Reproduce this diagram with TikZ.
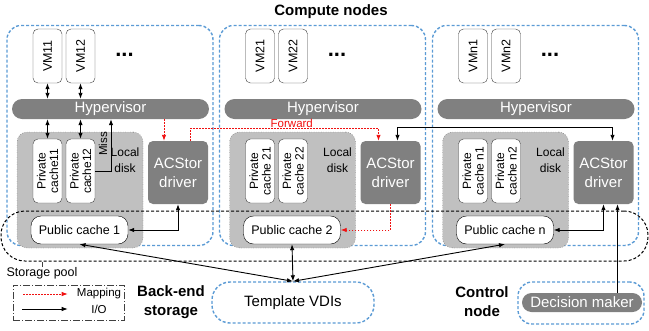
\documentclass[tikz,border=0pt]{standalone}
\usepackage{fontspec}
\setmainfont{Liberation Sans}
\usetikzlibrary{arrows.meta,calc}
\definecolor{AcsBlue}{HTML}{5B9BD5}
\definecolor{AcsGray}{HTML}{808080}
\definecolor{AcsDisk}{HTML}{C0C0C0}
\definecolor{AcsEdge}{HTML}{404040}
\definecolor{AcsRed}{HTML}{F01010}
\tikzset{
  host/.style={draw=AcsBlue,line width=1.4pt,dash pattern=on 3pt off 2pt,rounded corners=14pt,fill=white},
  vmbox/.style={draw=AcsEdge,fill=white,rounded corners=5pt,rotate=90,minimum width=54pt,minimum height=29pt,
    inner sep=0pt,font=\fontsize{12.5}{13}\selectfont},
  pcbox/.style={vmbox,minimum width=64pt,align=center,font=\fontsize{12}{12.5}\selectfont},
  dots/.style={anchor=base,inner sep=0pt,font=\bfseries\fontsize{22}{22}\selectfont},
  hyper/.style={fill=AcsGray,rounded corners=10pt,minimum width=197pt,minimum height=20pt,inner sep=0pt,
    text=white,font=\fontsize{15}{17}\selectfont},
  disk/.style={draw=AcsEdge,dotted,fill=AcsDisk,rounded corners=10pt,minimum width=126pt,minimum height=116pt},
  driver/.style={fill=AcsGray,rounded corners=5pt,minimum width=60pt,minimum height=63pt,inner sep=0pt,
    text=white,align=center,font=\fontsize{15}{19}\selectfont},
  pubbox/.style={draw=black,fill=white,rounded corners=10pt,minimum width=97pt,minimum height=28pt,inner sep=0pt,
    font=\fontsize{12.5}{14}\selectfont},
  pool/.style={draw=black,line width=1pt,dash pattern=on 3pt off 2pt,rounded corners=24pt,minimum width=647pt,minimum height=50pt},
  legendbox/.style={draw=AcsEdge,line width=0.8pt,dash pattern=on 7pt off 2pt on 1pt off 2pt,minimum width=111pt,minimum height=35pt},
  lbl/.style={font=\fontsize{11.5}{15}\selectfont,align=center,inner sep=0pt},
  ttl/.style={font=\bfseries\fontsize{15}{19}\selectfont,align=center,inner sep=0pt},
  ioflow/.style={draw=black,line width=0.9pt,-{Latex[length=6pt,width=4.5pt]}},
  mapflow/.style={draw=AcsRed,line width=0.9pt,dash pattern=on 1.5pt off 1.5pt,-{Latex[length=6pt,width=4.5pt]}},
  twoway/.style={{Latex[length=6pt,width=4.5pt]}-{Latex[length=6pt,width=4.5pt]}}
}
\begin{document}
\begin{tikzpicture}[x=1pt,y=-1pt]
  \useasboundingbox (0,0) rectangle (649,330);
  \node[ttl] (title) at (331,12) {Compute nodes};
  \foreach \i/\dx/\va/\vb/\ca/\cb/\pc in {1/0/VM11/VM12/cache11/cache12/1, 2/212.5/VM21/VM22/cache 21/cache 22/2, 3/425.5/VMn1/VMn2/cache n1/cache n2/n}{
    \node[host,minimum width=206pt,minimum height=220pt] (host\i) at (110+\dx,135.5) {};
    \node[vmbox] (vma\i) at (47.5+\dx,56) {\va};
    \node[vmbox] (vmb\i) at (80.5+\dx,56) {\vb};
    \node[dots] (dots\i) at (124.5+\dx,56) {...};
    \node[hyper] (hyp\i) at (110.5+\dx,109) {Hypervisor};
    \node[disk] (disk\i) at (80+\dx,190) {};
    \node[pcbox] (pca\i) at (47.5+\dx,171) {Private\\\ca};
    \node[pcbox] (pcb\i) at (80.5+\dx,171) {Private\\\cb};
    \node[lbl,font=\fontsize{12}{15.5}\selectfont] (loc\i) at (125+\dx,160) {Local\\disk};
    \node[driver] (drv\i) at (178+\dx,172.5) {ACStor\\driver};
    \node[pubbox] (pub\i) at (79.5+\dx,230) {Public cache \pc};
  }
  \node[pool] (pool) at (324.5,236) {};
  \node[lbl,font=\fontsize{12.5}{14}\selectfont] (poollbl) at (42,273) {Storage pool};
  \draw[AcsEdge,line width=0.6pt] (poollbl.north) -- (poollbl.north |- pool.south);
  \node[host,rounded corners=18pt,minimum width=162pt,minimum height=41pt,font=\fontsize{15}{17}\selectfont] (tmpl) at (293,302.5) {Template VDIs};
  \node[host,minimum width=126pt,minimum height=42pt] (ctrlbox) at (581,303) {};
  \node[hyper,minimum width=120pt,minimum height=19pt,rounded corners=9.5pt] (dec) at (582,302.5) {Decision maker};
  \node[ttl] (backend) at (171,302) {Back-end\\storage};
  \node[ttl] (ctrl) at (482,302) {Control\\node};
  \node[legendbox] (legend) at (68.5,302.5) {};
  \node[lbl] (lgmap) at (99,294) {Mapping};
  \node[lbl] (lgio) at (99,309) {I/O};
  \coordinate (lgA) at (23,294);
  \coordinate (lgB) at (22,309);
  \draw[mapflow] (lgA) -- ([xshift=-9pt]lgmap.west);
  \draw[ioflow] (lgB) -- ([xshift=-9pt]lgmap.west |- lgB);
  \foreach \v in {vma1,vmb1}{
    \draw[ioflow,twoway] (\v.west) -- (\v.west |- hyp1.north);
  }
  \foreach \v in {pca1,pcb1}{
    \draw[ioflow,twoway] (\v.east) -- (\v.east |- hyp1.south);
  }
  \coordinate (miss) at (111,171);
  \draw[ioflow] (pcb1.south) -- (miss) -- (miss |- hyp1.south);
  \node[lbl,rotate=90] (misslbl) at (103,144) {Miss};
  \draw[mapflow] ([xshift=-14pt]drv1.north |- hyp1.south) -- ([xshift=-14pt]drv1.north);
  \draw[mapflow] ([xshift=12pt]drv1.north) -- ++(0,-12)
    -| node[pos=0.27,above,lbl,inner sep=0.5pt,text=AcsRed]{Forward} ([xshift=-12pt]drv2.north);
  \draw[ioflow,twoway] ([xshift=7pt]drv2.north) -- ++(0,-13) -| ([xshift=9pt]drv3.north);
  \draw[ioflow,twoway] (drv1.south) |- (pub1.east);
  \draw[mapflow] (drv2.south) |- (pub2.east);
  \draw[ioflow,twoway] (drv3.south) |- (pub3.east);
  \foreach \p in {pub1,pub2,pub3}{
    \draw[ioflow,twoway] (\p.south) -- (tmpl.north);
  }
  \draw[ioflow] ([xshift=14pt]drv3.south |- dec.north) -- ([xshift=14pt]drv3.south);
\end{tikzpicture}
\end{document}
